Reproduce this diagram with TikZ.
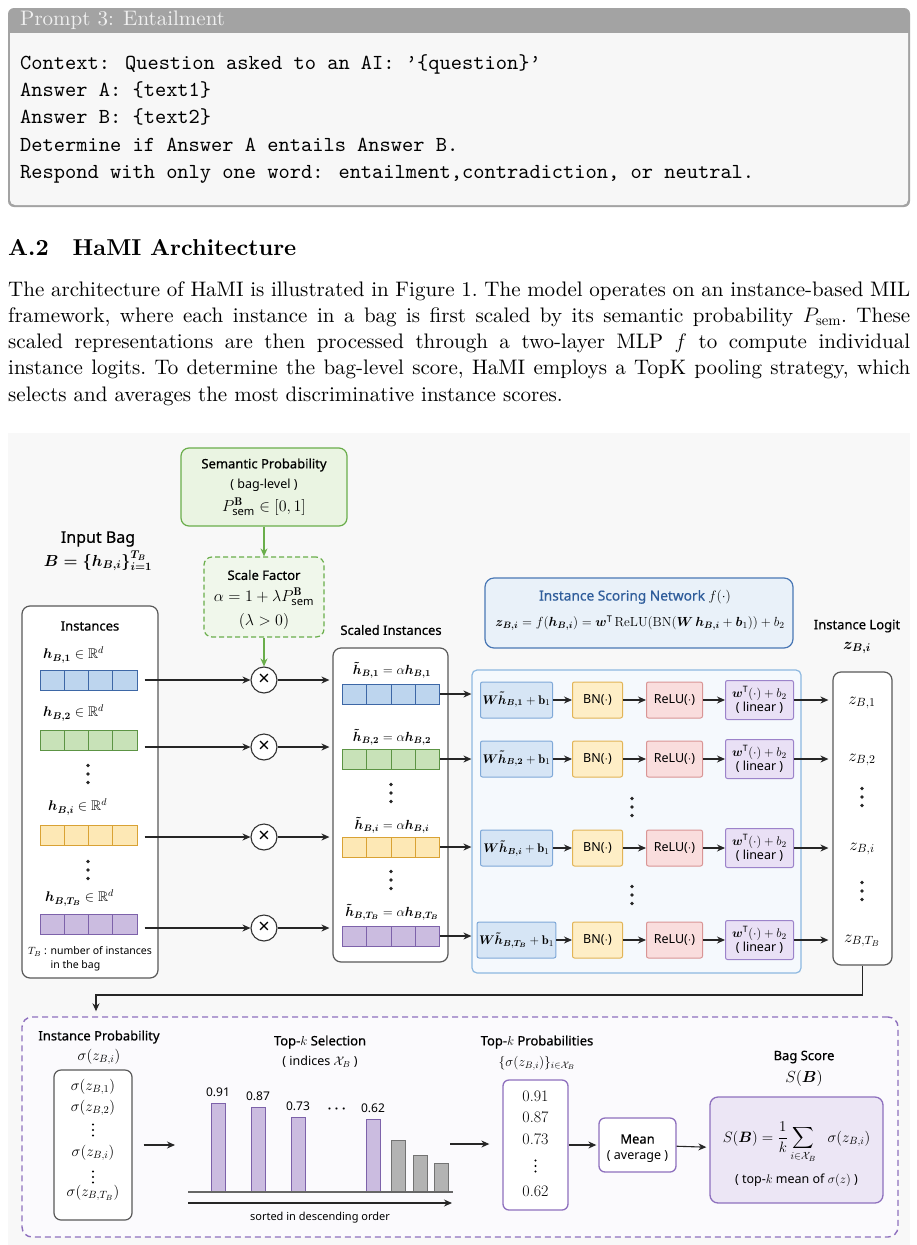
\RequirePackage{fix-cm}
\documentclass[tikz,border=0pt]{standalone}
\usepackage{amsmath}
\usepackage{amssymb}
\usepackage{fontspec}
\setsansfont{Noto Sans}
\newfontfamily\bodyrm{lmroman10-regular.otf}[Ligatures=TeX, BoldFont=lmroman10-bold.otf, ItalicFont=lmroman10-italic.otf]
\newfontfamily\bodytt{lmmono10-regular.otf}
\newfontfamily\titlesf{Noto Sans}[FakeBold=0.6]
\usetikzlibrary{positioning,arrows.meta}

\definecolor{hdrgray}{HTML}{B0B0B0}
\definecolor{boxback}{HTML}{F7F7F7}
\definecolor{figback}{HTML}{F8F8F8}
\definecolor{grnfill}{HTML}{EAF4E2}
\definecolor{grnline}{HTML}{6AAE4B}
\definecolor{bluefill}{HTML}{BDD5EE}
\definecolor{blueline}{HTML}{3D67A6}
\definecolor{greenfill}{HTML}{C8E2B8}
\definecolor{greenline}{HTML}{5C9444}
\definecolor{yelfill}{HTML}{FDE8B5}
\definecolor{yelline}{HTML}{D9A234}
\definecolor{purfill}{HTML}{CBBCE0}
\definecolor{purline}{HTML}{7D62AA}
\definecolor{linfill}{HTML}{D6E5F5}
\definecolor{linline}{HTML}{7FA9D8}
\definecolor{bnfill}{HTML}{FEEEC6}
\definecolor{bnline}{HTML}{E2B456}
\definecolor{relufill}{HTML}{F9DDDD}
\definecolor{reluline}{HTML}{D99595}
\definecolor{outfill}{HTML}{E9E0F5}
\definecolor{outlinec}{HTML}{9C83CA}
\definecolor{netfill}{HTML}{E9F1F9}
\definecolor{netline}{HTML}{4A78B5}
\definecolor{nettext}{HTML}{2F5D9B}
\definecolor{mlpline}{HTML}{8DB8E0}
\definecolor{mlpfill}{HTML}{F5F9FD}
\definecolor{poolline}{HTML}{8E70BE}
\definecolor{poolfill}{HTML}{FBFAFD}
\definecolor{scorefill}{HTML}{ECE6F5}
\definecolor{greybar}{HTML}{B3B3B3}

\tikzset{
  txt/.style={font=\titlesf\fontsize{13}{15}\selectfont, inner sep=0pt},
  small/.style={font=\sffamily\fontsize{12.5}{14}\selectfont, inner sep=0pt},
  mth/.style={font=\fontsize{14}{16}\selectfont, inner sep=0pt},
  vdot/.style={minimum width=8pt, minimum height=26pt, inner sep=0pt,
    path picture={\foreach \dd in {-8.5,0,8.5}
      \fill[black!85] ([yshift=\dd pt]path picture bounding box.center) circle (1.8pt);}},
  sdot/.style={minimum width=6pt, minimum height=18pt, inner sep=0pt,
    path picture={\foreach \dd in {-5.5,0,5.5}
      \fill ([yshift=\dd pt]path picture bounding box.center) circle (1.2pt);}},
  vecbox/.style 2 args={draw=#2, fill=#1, line width=1pt, minimum width=97pt, minimum height=20pt, inner sep=0pt,
    path picture={\foreach \c in {1,2,3}
      \draw[#2, line width=1pt] ([xshift=\c*24.25pt]path picture bounding box.north west) -- ([xshift=\c*24.25pt]path picture bounding box.south west);}},
  panel/.style={draw=black!65, fill=white, line width=1.2pt, rounded corners=8pt, inner sep=0pt},
  mulnode/.style={circle, draw=black!80, fill=white, line width=1.1pt, minimum size=26pt, inner sep=0pt, font=\sffamily\bfseries\fontsize{20}{20}\selectfont},
  layer/.style 2 args={draw=#2, fill=#1, line width=1pt, rounded corners=2pt, minimum height=36pt, inner sep=2pt, font=\sffamily\fontsize{12.5}{14}\selectfont, align=center},
  arr/.style={-{Stealth[length=8pt,width=7pt]}, line width=1.1pt, black!85},
  garr/.style={-{Stealth[length=8pt,width=7pt]}, line width=1.1pt, grnline}
}

\begin{document}
\begin{tikzpicture}[x=1pt, y=-1pt]
\useasboundingbox (0,0) rectangle (916,1245);
\fill[white] (0,0) rectangle (916,1245);

% prompt box
\fill[black!36, rounded corners=6pt] (8,8) rectangle (910,207);
\fill[boxback] (10,33) -- (908,33) [rounded corners=5pt] -- (908,205) -- (10,205) [sharp corners] -- cycle;
\node[anchor=west, inner sep=0pt, text=white!94!black, font=\bodyrm\fontsize{21}{24}\selectfont] (ptitle) at (20,20) {Prompt 3: Entailment};
\foreach \ln [count=\k] in {{Context: Question asked to an AI: ’\{question\}’},{Answer A: \{text1\}},{Answer B: \{text2\}},{Determine if Answer A entails Answer B.},{Respond with only one word: entailment,contradiction, or neutral.}}
  \node[anchor=base west, inner sep=0pt, font=\bodytt\fontsize{21.4}{27}\selectfont] (p\k) at (20,42+27.3*\k) {\ln};

% section text
\node[anchor=base west, inner sep=0pt, font=\bodyrm\bfseries\fontsize{23}{27}\selectfont] (sec) at (8,255) {A.2\hspace{24pt}HaMI Architecture};
\node[anchor=north west, inner sep=0pt, text width=902pt, align=justify, font=\bodyrm\fontsize{21}{26.3}\selectfont] (para) at (8,281)
  {\noindent\frenchspacing The architecture of HaMI is illustrated in Figure 1. The model operates on an instance-based MIL\linebreak
  framework, where each instance in a bag is first scaled by its semantic probability $P_{\text{sem}}$. These\linebreak
  scaled representations are then processed through a two-layer MLP $f$ to compute individual\linebreak
  instance logits. To determine the bag-level score, HaMI employs a TopK pooling strategy, which\linebreak
  selects and averages the most discriminative instance scores.};

% figure
\fill[figback] (8,433) rectangle (910,1245);

% semantic probability and scale factor
\node[draw=grnline, fill=grnfill, line width=1.2pt, rounded corners=8pt, minimum width=166pt, minimum height=78pt] (sem) at (264,487) {};
\node[txt] (semT) at (264,465) {Semantic Probability};
\node[small] (semS) at (264,485) {( bag-level )};
\node[mth, font=\fontsize{16}{18}\selectfont] (semP) at (264,507) {$P^{\mathbf{B}}_{\text{\sffamily sem}}\in[0,1]$};
\node[draw=grnline, fill=grnfill!70!white, dash pattern=on 5pt off 3pt, line width=1.2pt, rounded corners=8pt, minimum width=120pt, minimum height=80pt] (scale) at (264,597) {};
\node[txt] (scaleT) at (264,575) {Scale Factor};
\node[mth, font=\fontsize{16}{18}\selectfont] (scaleA) at (264,597) {$\alpha=1+\lambda P^{\mathbf{B}}_{\text{\sffamily sem}}$};
\node[mth, font=\fontsize{16}{18}\selectfont] (scaleL) at (264,621) {$(\lambda>0)$};
\node[mulnode] (m1) at (264,680) {×};
\node[mulnode] (m2) at (264,747) {×};
\node[mulnode] (mi) at (264,837) {×};
\node[mulnode] (mT) at (264,928) {×};
\draw[garr] (sem) -- (scale);
\draw[garr] (scale) -- (m1);

% input bag
\node[font=\titlesf\fontsize{16}{18}\selectfont, inner sep=0pt] (bagT) at (98,539) {Input Bag};
\node[font=\fontsize{16}{18}\selectfont\boldmath, inner sep=0pt] (bagF) at (98,561) {$B=\{h_{B,i}\}_{i=1}^{T_B}$};
\node[panel, minimum width=136pt, minimum height=372pt] (inst) at (90,792) {};
\node[txt] (instT) at (90,626) {Instances};
\foreach \k/\yy/\fc/\lc in {1/680/bluefill/blueline, 2/740/greenfill/greenline, i/835/yelfill/yelline, T/924/purfill/purline}
  \node[vecbox={\fc}{\lc}] (v\k) at (88.5,\yy) {};
\node[mth, anchor=west] (l1) at (43,655) {$\boldsymbol{h_{B,1}}\in\mathbb{R}^d$};
\node[mth, anchor=west] (l2) at (43,713) {$\boldsymbol{h_{B,2}}\in\mathbb{R}^d$};
\node[mth, anchor=west] (li) at (48,807) {$\boldsymbol{h_{B,i}}\in\mathbb{R}^d$};
\node[mth, anchor=west] (lT) at (45,898) {$\boldsymbol{h_{B,T_B}}\in\mathbb{R}^d$};
\node[vdot] (ld1) at (88,774) {};
\node[vdot] (ld2) at (88,870) {};
\node[font=\sffamily\fontsize{10.5}{14}\selectfont, align=left, inner sep=0pt] (note) at (90,959) {$T_B$ : number of instances\\\phantom{$T_B$ : }in the bag};

% scaled instances
\node[panel, minimum width=115pt, minimum height=314pt] (sc) at (390.5,805) {};
\node[txt] (scT) at (391,630) {Scaled Instances};
\foreach \k/\yy/\fc/\lc in {1/694/bluefill/blueline, 2/759/greenfill/greenline, i/847/yelfill/yelline, T/936/purfill/purline}
  \node[vecbox={\fc}{\lc}] (s\k) at (391,\yy) {};
\node[mth, font=\fontsize{13.2}{15}\selectfont] (t1) at (392,670) {$\boldsymbol{\tilde h_{B,1}}=\alpha\boldsymbol{h_{B,1}}$};
\node[mth, font=\fontsize{13.2}{15}\selectfont] (t2) at (392,737) {$\boldsymbol{\tilde h_{B,2}}=\alpha\boldsymbol{h_{B,2}}$};
\node[mth, font=\fontsize{13.2}{15}\selectfont] (ti) at (392,825) {$\boldsymbol{\tilde h_{B,i}}=\alpha\boldsymbol{h_{B,i}}$};
\node[mth, font=\fontsize{13.2}{15}\selectfont] (tT) at (392,912) {$\boldsymbol{\tilde h_{B,T_B}}=\alpha\boldsymbol{h_{B,T_B}}$};
\node[vdot] (sd1) at (391,793) {};
\node[vdot] (sd2) at (391,880) {};
\foreach \k in {1,2,i,T} {
  \draw[arr, shorten <=7pt] (m\k -| v\k.east) -- (m\k);
  \draw[arr, shorten >=3pt] (m\k) -- (m\k -| sc.west);
}

% instance scoring network
\node[draw=netline, fill=netfill, line width=1.2pt, rounded corners=9pt, minimum width=308pt, minimum height=70pt] (net) at (639,613) {};
\node[font=\titlesf\fontsize{13.7}{16}\selectfont, text=nettext, inner sep=0pt] (netT) at (635,597) {Instance Scoring Network \textcolor{black}{$f(\cdot)$}};
\node[mth, font=\fontsize{13.2}{15}\selectfont] (netF) at (640,623) {$\boldsymbol{z_{B,i}}=f(\boldsymbol{h_{B,i}})=\boldsymbol{w}^{\mathsf{T}}\,\mathrm{ReLU}(\mathrm{BN}(\boldsymbol{W}\,\boldsymbol{h_{B,i}}+\boldsymbol{b}_1))+b_2$};
\node[draw=mlpline, fill=mlpfill, line width=1.2pt, rounded corners=5pt, minimum width=329pt, minimum height=303pt] (mlp) at (636.5,821.5) {};

% instance logits
\node[panel, minimum width=59pt, minimum height=293pt] (lg) at (862.5,818.5) {};
\node[txt] (lgT) at (857,626) {Instance Logit};
\node[mth, font=\fontsize{16}{18}\selectfont] (lgF) at (857,648) {$\boldsymbol{z_{B,i}}$};
\foreach \k/\s/\yy in {1/1/703, 2/2/760, i/i/849, T/T_B/941}
  \node[mth, font=\fontsize{17}{19}\selectfont] (z\k) at (862,\yy) {$z_{B,\s}$};
\node[vdot] (zd1) at (862,797) {};
\node[vdot] (zd2) at (862,891) {};
\node[vdot] (md1) at (632,807) {};
\node[vdot] (md2) at (632,895) {};

\foreach \k/\s/\yy in {1/1/700, 2/2/759, i/i/848, T/T_B/940} {
  \node[layer={linfill}{linline}, minimum width=72pt] (a\k) at (516.5,\yy) {$\boldsymbol{W\tilde h_{B,\s}}+\mathbf{b}_1$};
  \node[layer={bnfill}{bnline}, minimum width=50pt, anchor=west] (b\k) at (572,\yy) {BN($\cdot$)};
  \node[layer={relufill}{reluline}, minimum width=56pt, right=23pt of b\k] (r\k) {ReLU($\cdot$)};
  \node[layer={outfill}{outlinec}, minimum width=68pt, minimum height=39pt, inner sep=1pt, right=22pt of r\k] (o\k) {$\boldsymbol{w}^{\mathsf{T}}(\cdot)+b_2$\\{\fontsize{12.5}{13}\selectfont( linear )}};
  \draw[arr] (a\k) -- (b\k);
  \draw[arr] (b\k) -- (r\k);
  \draw[arr] (r\k) -- (o\k);
  \draw[arr, shorten >=4pt] (o\k) -- (o\k -| lg.west);
  \draw[arr] (s\k.east) -- (s\k.east -| mlp.west);
}

% top-k pooling
\node[draw=poolline, fill=poolfill, dash pattern=on 6pt off 4pt, line width=1.4pt, rounded corners=10pt, minimum width=876pt, minimum height=220pt] (pool) at (460,1127) {};
\coordinate (turn) at (96,995);
\draw[arr, shorten >=5pt] (lg.south) |- (turn) -- (turn |- pool.north);

\node[txt] (probT) at (99,1037) {Instance Probability};
\node[mth, font=\fontsize{15}{17}\selectfont] (probF) at (99,1057) {$\sigma(z_{B,i})$};
\node[panel, rounded corners=7pt, minimum width=78pt, minimum height=150pt] (prob) at (93,1145) {};
\foreach \k/\s/\yy in {1/1/1087, 2/2/1108, i/i/1153, T/T_B/1193}
  \node[mth, font=\fontsize{15}{17}\selectfont] (q\k) at (93,\yy) {$\sigma(z_{B,\s})$};
\node[sdot] (qd1) at (93,1130) {};
\node[sdot] (qd2) at (93,1177) {};

\node[txt] (selT) at (320,1042) {Top-$k$ Selection};
\node[small] (selS) at (320,1062) {( indices $\mathcal{X}_B$ )};
\coordinate (selin) at (175,1143);
\coordinate (selout) at (450,1144);
\foreach \x/\t/\v in {211/1103/0.91, 251/1107/0.87, 291/1117/0.73, 366/1119/0.62} {
  \draw[purline, fill=purfill, line width=1pt] (\x,\t) rectangle (\x+14,1192);
  \node[small, font=\sffamily\fontsize{12}{14}\selectfont] (bar\x) at (\x+7,\t-11) {\v};
}
\foreach \x/\t in {391/1140, 413/1155, 434/1163}
  \draw[black!55, fill=greybar, line width=1pt] (\x,\t) rectangle (\x+14,1192);
\node[font=\fontsize{14}{14}\selectfont, inner sep=0pt] (bdots) at (338,1109) {$\boldsymbol{\cdots}$};
\coordinate (axA) at (188,1203);
\coordinate (axB) at (452,1203);
\draw[black!60, line width=1.2pt] (188,1192) -- (453,1192);
\draw[arr] (axA) -- (axB);
\node[font=\sffamily\fontsize{11}{13}\selectfont, inner sep=0pt] (sortT) at (320,1218) {sorted in descending order};

\node[txt] (tkT) at (537,1042) {Top-$k$ Probabilities};
\node[mth, font=\fontsize{13.5}{15}\selectfont] (tkF) at (537,1063) {$\{\sigma(z_{B,i})\}_{i\in\mathcal{X}_B}$};
\node[draw=poolline, fill=white, line width=1.3pt, rounded corners=6pt, minimum width=65pt, minimum height=130pt] (topk) at (535.5,1145) {};
\foreach \v/\yy [count=\n] in {0.91/1096, 0.87/1117, 0.73/1139, 0.62/1191}
  \node[mth, font=\fontsize{16}{18}\selectfont] (kv\n) at (535.5,\yy) {\v};
\node[sdot] (kd) at (535.5,1166) {};

\node[draw=poolline, fill=white, line width=1.3pt, rounded corners=6pt, minimum width=77pt, minimum height=54pt] (mean) at (637.5,1145) {};
\node[txt] (meanT) at (637.5,1139) {Mean};
\node[small] (meanS) at (637.5,1157) {( average )};

\node[txt] (scoreT) at (804,1057) {Bag Score};
\node[mth, font=\fontsize{16}{18}\selectfont] (scoreS) at (804,1078) {$S(\boldsymbol{B})$};
\node[draw=poolline, fill=scorefill, line width=1.3pt, rounded corners=8pt, minimum width=173pt, minimum height=106pt] (score) at (796.5,1150) {};
\node[mth, font=\fontsize{15}{17}\selectfont, anchor=base] (scoreF) at (796.5,1142) {$\displaystyle S(\boldsymbol{B})=\frac{1}{k}\sum_{i\in\mathcal{X}_B}\ \ \sigma(z_{B,i})$};
\node[small] (scoreN) at (796.5,1180) {( top-$k$ mean of $\sigma(z)$ )};

\draw[arr, shorten <=11pt] (prob.east) -- (prob.east -| selin);
\draw[arr, shorten >=13pt] (selout) -- (selout -| topk.west);
\draw[arr, shorten >=2pt] (topk) -- (mean);
\draw[arr, shorten >=3pt] (mean) -- (score);
\end{tikzpicture}
\end{document}
